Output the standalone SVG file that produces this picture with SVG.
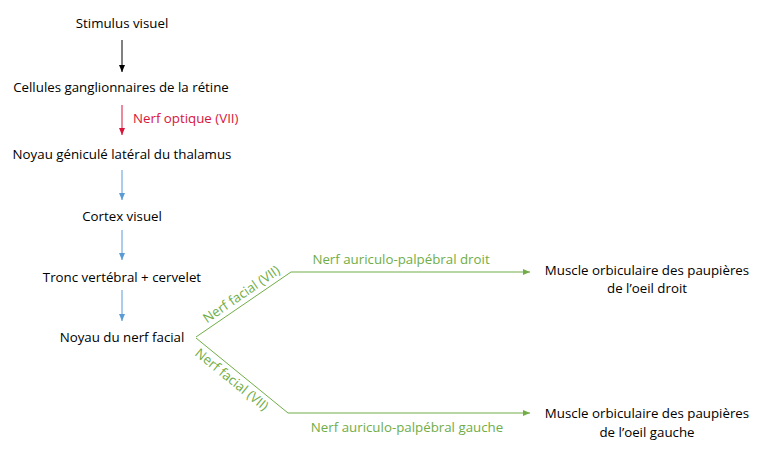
<svg xmlns="http://www.w3.org/2000/svg" width="768" height="454" viewBox="0 0 768 454">
<style>
text{font-family:"Open Sans","Liberation Sans",sans-serif;font-size:13.3px;fill:#000}
.c{text-anchor:middle}
.g{fill:#70ad47}
.r{fill:#d9143a}
.lk{fill:none;stroke-width:1}
</style>
<defs>
<marker id="ak" markerWidth="8" markerHeight="8" refX="7" refY="4" orient="auto" markerUnits="userSpaceOnUse"><path d="M0,1 L7,4 L0,7 Z" fill="#000"/></marker>
<marker id="ar" markerWidth="8" markerHeight="8" refX="7" refY="4" orient="auto" markerUnits="userSpaceOnUse"><path d="M0,1 L7,4 L0,7 Z" fill="#d9143a"/></marker>
<marker id="ab" markerWidth="8" markerHeight="8" refX="7" refY="4" orient="auto" markerUnits="userSpaceOnUse"><path d="M0,1 L7,4 L0,7 Z" fill="#5b9bd5"/></marker>
<marker id="ag" markerWidth="8" markerHeight="8" refX="7" refY="4" orient="auto" markerUnits="userSpaceOnUse"><path d="M0,1 L7,4 L0,7 Z" fill="#70ad47"/></marker>
</defs>
<rect width="768" height="454" fill="#fff"/>
<g id="n1"><text class="c" x="122" y="28">Stimulus visuel</text></g>
<g id="n2"><text class="c" x="121" y="92">Cellules ganglionnaires de la rétine</text></g>
<g id="n3"><text class="c" x="122" y="159">Noyau géniculé latéral du thalamus</text></g>
<g id="n4"><text class="c" x="122" y="221">Cortex visuel</text></g>
<g id="n5"><text class="c" x="122" y="282">Tronc vertébral + cervelet</text></g>
<g id="n6"><text class="c" x="122" y="342">Noyau du nerf facial</text></g>
<g id="n7"><text class="c" x="647" y="275">Muscle orbiculaire des paupières</text><text class="c" x="647" y="293">de l’oeil droit</text></g>
<g id="n8"><text class="c" x="647" y="418">Muscle orbiculaire des paupières</text><text class="c" x="647" y="437">de l’oeil gauche</text></g>
<g id="connectors">
<line class="lk" x1="122" y1="40" x2="122" y2="72" stroke="#000" marker-end="url(#ak)"/>
<line class="lk" x1="122" y1="105" x2="122" y2="135" stroke="#d9143a" marker-end="url(#ar)"/>
<text class="r" x="133" y="123">Nerf optique (VII)</text>
<line class="lk" x1="122" y1="170" x2="122" y2="200" stroke="#5b9bd5" marker-end="url(#ab)"/>
<line class="lk" x1="122" y1="230" x2="122" y2="260" stroke="#5b9bd5" marker-end="url(#ab)"/>
<line class="lk" x1="122" y1="290" x2="122" y2="321" stroke="#5b9bd5" marker-end="url(#ab)"/>
<polyline class="lk" points="196,337 291,272 530,272" stroke="#70ad47" marker-end="url(#ag)"/>
<polyline class="lk" points="196,338 288,413 530,413" stroke="#70ad47" marker-end="url(#ag)"/>
<text class="g" x="401" y="264" text-anchor="middle">Nerf auriculo-palpébral droit</text>
<text class="g" x="407" y="432" text-anchor="middle">Nerf auriculo-palpébral gauche</text>
<text class="g" text-anchor="middle" transform="translate(244,298) rotate(-34.5)">Nerf facial (VII)</text>
<text class="g" text-anchor="middle" transform="translate(229,383) rotate(39)">Nerf facial (VII)</text>
</g>
</svg>
